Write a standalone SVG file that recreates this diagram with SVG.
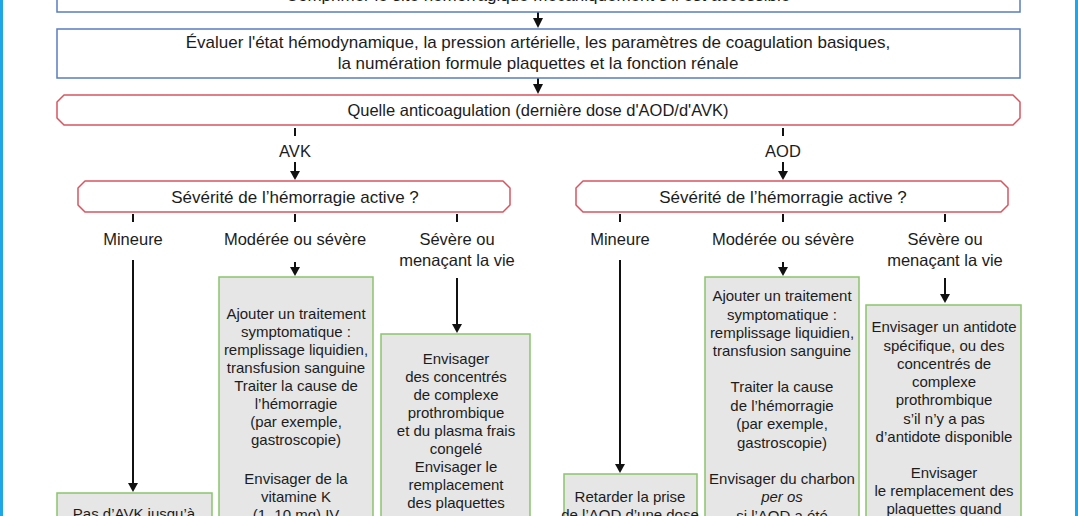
<svg xmlns="http://www.w3.org/2000/svg" width="1078" height="516" viewBox="0 0 1078 516">
<style>
text{font-family:"Liberation Sans","DejaVu Sans",sans-serif;font-size:15px;fill:#1c1c1c;text-anchor:middle}
.h{font-size:17px}
.q{font-size:16.5px}
.blue{fill:#fff;stroke:#5a7cc0;stroke-width:1.5}
.red{fill:#fff;stroke:#d8545f;stroke-width:1.5;stroke-linejoin:round}
.green{fill:#e6e6e6;stroke:#8cc36c;stroke-width:1.5}
.ln{stroke:#111;stroke-width:2;fill:none}
.ah{fill:#111}
.bar{fill:#1ea6e8}
</style>
<rect width="1078" height="516" fill="#fff"/>
<rect class="bar" x="0" y="0" width="3" height="516"/>
<rect class="bar" x="1075" y="0" width="3" height="516"/>

<g id="connectors">
<path class="ln" d="M538,12 V19"/><path class="ah" d="M533,18 L543,18 L538,28 Z"/>
<path class="ln" d="M538,78 V85"/><path class="ah" d="M533,84 L543,84 L538,94 Z"/>
<path class="ln" d="M295,128 V136"/><path class="ln" d="M783,128 V136"/>
<path class="ln" d="M295,162 V172"/><path class="ah" d="M290,171 L300,171 L295,180 Z"/>
<path class="ln" d="M783,162 V172"/><path class="ah" d="M778,171 L788,171 L783,180 Z"/>
<path class="ln" d="M133,214 V222"/><path class="ln" d="M295,214 V222"/><path class="ln" d="M457,214 V222"/>
<path class="ln" d="M620,214 V222"/><path class="ln" d="M783,214 V222"/><path class="ln" d="M945,214 V222"/>
<path class="ln" d="M133,260 V484"/><path class="ah" d="M128,483 L138,483 L133,492 Z"/>
<path class="ln" d="M295,262 V268"/><path class="ah" d="M290,267 L300,267 L295,276 Z"/>
<path class="ln" d="M457,278 V325"/><path class="ah" d="M452,324 L462,324 L457,333 Z"/>
<path class="ln" d="M620,260 V465"/><path class="ah" d="M615,464 L625,464 L620,473 Z"/>
<path class="ln" d="M783,262 V268"/><path class="ah" d="M778,267 L788,267 L783,276 Z"/>
<path class="ln" d="M945,278 V295"/><path class="ah" d="M940,294 L950,294 L945,303 Z"/>
</g>

<g id="n-comprimer">
<rect class="blue" x="57" y="-20" width="963" height="32"/>
<text class="h" x="538" y="1">Comprimer le site hémorragique mécaniquement s’il est accessible</text>
</g>
<g id="n-evaluer">
<rect class="blue" x="57" y="29" width="963" height="49"/>
<text class="h" x="538" y="48">Évaluer l'état hémodynamique, la pression artérielle, les paramètres de coagulation basiques,</text>
<text class="h" x="538" y="69">la numération formule plaquettes et la fonction rénale</text>
</g>
<g id="n-quelle">
<path class="red" d="M64,95 H1013 L1020,102 V118 L1013,125 H64 L57,118 V102 Z"/>
<text class="q" x="538" y="116">Quelle anticoagulation (dernière dose d'AOD/d'AVK)</text>
</g>
<g id="l-avk"><text class="q" x="295" y="157">AVK</text></g>
<g id="l-aod"><text class="q" x="783" y="157">AOD</text></g>
<g id="n-sev-avk">
<path class="red" d="M85,181 H503 L510,188 V205 L503,212 H85 L78,205 V188 Z"/>
<text class="h" x="295" y="203">Sévérité de l’hémorragie active ?</text>
</g>
<g id="n-sev-aod">
<path class="red" d="M583,181 H1001 L1008,188 V205 L1001,212 H583 L576,205 V188 Z"/>
<text class="h" x="783" y="203">Sévérité de l’hémorragie active ?</text>
</g>
<g id="labels">
<text class="q" x="133" y="245">Mineure</text>
<text class="q" x="295" y="245">Modérée ou sévère</text>
<text class="q" x="457" y="245">Sévère ou</text>
<text class="q" x="457" y="266">menaçant la vie</text>
<text class="q" x="620" y="245">Mineure</text>
<text class="q" x="783" y="245">Modérée ou sévère</text>
<text class="q" x="945" y="245">Sévère ou</text>
<text class="q" x="945" y="266">menaçant la vie</text>
</g>
<g id="n-avk-mineure">
<rect class="green" x="57" y="493" width="155" height="40"/>
<text x="134" y="519">Pas d’AVK jusqu’à</text>
</g>
<g id="n-avk-moderee">
<rect class="green" x="219" y="277" width="154" height="260"/>
<text x="296" y="319">Ajouter un traitement</text>
<text x="296" y="337">symptomatique :</text>
<text x="296" y="355">remplissage liquidien,</text>
<text x="296" y="373">transfusion sanguine</text>
<text x="296" y="391">Traiter la cause de</text>
<text x="296" y="409">l’hémorragie</text>
<text x="296" y="427">(par exemple,</text>
<text x="296" y="445">gastroscopie)</text>
<text x="296" y="484">Envisager de la</text>
<text x="296" y="502">vitamine K</text>
<text x="296" y="520">(1–10 mg) IV</text>
</g>
<g id="n-avk-severe">
<rect class="green" x="381" y="334" width="149" height="200"/>
<text x="456" y="364">Envisager</text>
<text x="456" y="382">des concentrés</text>
<text x="456" y="400">de complexe</text>
<text x="456" y="418">prothrombique</text>
<text x="456" y="436">et du plasma frais</text>
<text x="456" y="454">congelé</text>
<text x="456" y="472">Envisager le</text>
<text x="456" y="490">remplacement</text>
<text x="456" y="508">des plaquettes</text>
</g>
<g id="n-aod-mineure">
<rect class="green" x="564" y="474" width="133" height="60"/>
<text x="630" y="502">Retarder la prise</text>
<text x="630" y="520">de l’AOD d’une dose</text>
</g>
<g id="n-aod-moderee">
<rect class="green" x="705" y="277" width="154" height="260"/>
<text x="782" y="301">Ajouter un traitement</text>
<text x="782" y="320">symptomatique :</text>
<text x="782" y="338">remplissage liquidien,</text>
<text x="782" y="356">transfusion sanguine</text>
<text x="782" y="392">Traiter la cause</text>
<text x="782" y="411">de l’hémorragie</text>
<text x="782" y="429">(par exemple,</text>
<text x="782" y="448">gastroscopie)</text>
<text x="782" y="484">Envisager du charbon</text>
<text x="782" y="502" font-style="italic">per os</text>
<text x="782" y="521">si l’AOD a été</text>
</g>
<g id="n-aod-severe">
<rect class="green" x="866" y="305" width="155" height="230"/>
<text x="944" y="332">Envisager un antidote</text>
<text x="944" y="351">spécifique, ou des</text>
<text x="944" y="369">concentrés de</text>
<text x="944" y="387">complexe</text>
<text x="944" y="405">prothrombique</text>
<text x="944" y="424">s’il n’y a pas</text>
<text x="944" y="442">d’antidote disponible</text>
<text x="944" y="478">Envisager</text>
<text x="944" y="496">le remplacement des</text>
<text x="944" y="514">plaquettes quand</text>
</g>
</svg>
